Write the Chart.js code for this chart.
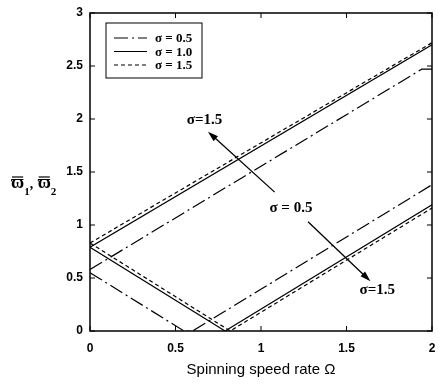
<!DOCTYPE html>
<html lang="en">
<head>
<meta charset="UTF-8">
<title>Spinning speed rate</title>
<script src="https://cdn.jsdelivr.net/npm/chart.js"></script>
<style>
  html, body { margin: 0; padding: 0; background: #fff; }
  #wrap { width: 440px; height: 387px; }
</style>
</head>
<body>
<div id="wrap"><canvas id="chart" width="440" height="387"></canvas></div>
<script>
// sigma = 0.5 (dash-dot)
const s05UpperX = [0, 1.94, 2];
const s05UpperY = [0.58, 2.47, 2.47];
const s05LowerX = [0, 0.55, 0.6, 2];
const s05LowerY = [0.55, 0, 0, 1.38];
// sigma = 1.0 (solid)
const s10UpperX = [0, 2];
const s10UpperY = [0.79, 2.70];
const s10LowerX = [0, 0.79, 2];
const s10LowerY = [0.79, 0, 1.19];
// sigma = 1.5 (dashed)
const s15UpperX = [0, 2];
const s15UpperY = [0.83, 2.72];
const s15LowerX = [0, 0.82, 2];
const s15LowerY = [0.83, 0, 1.16];

const seriesLabels = ['σ = 0.5', 'σ = 1.0', 'σ = 1.5'];
const xTicks = [0, 0.5, 1, 1.5, 2];
const yTicks = [0, 0.5, 1, 1.5, 2, 2.5, 3];

const dashDot = [14, 4, 2, 4];
const dashed = [4, 3];

function pts(xs, ys) {
    return xs.map((x, i) => ({ x: x, y: ys[i] }));
}

function line(label, xs, ys, dash) {
    return {
        label: label,
        data: pts(xs, ys),
        showLine: true,
        borderColor: '#000',
        borderWidth: 1.2,
        borderDash: dash,
        pointRadius: 0,
        fill: false
    };
}

const datasets = [
    line(seriesLabels[0], s05UpperX, s05UpperY, dashDot),
    line(seriesLabels[0], s05LowerX, s05LowerY, dashDot),
    line(seriesLabels[1], s10UpperX, s10UpperY, []),
    line(seriesLabels[1], s10LowerX, s10LowerY, []),
    line(seriesLabels[2], s15UpperX, s15UpperY, dashed),
    line(seriesLabels[2], s15LowerX, s15LowerY, dashed)
];

// annotation texts and arrows, in data units
const notes = [
    { text: 'σ=1.5', x: 0.67, y: 1.99 },
    { text: 'σ = 0.5', x: 1.175, y: 1.16 },
    { text: 'σ=1.5', x: 1.68, y: 0.39 }
];
const arrows = [
    { x0: 1.08, y0: 1.31, x1: 0.69, y1: 1.88 },
    { x0: 1.275, y0: 1.03, x1: 1.64, y1: 0.47 }
];

const frame = {
    id: 'frame',
    afterDraw(chart) {
        const c = chart.ctx, a = chart.chartArea;
        const xs = chart.scales.x, ys = chart.scales.y;
        c.save();
        c.strokeStyle = '#000';
        c.lineWidth = 1.5;
        c.setLineDash([]);
        c.strokeRect(a.left, a.top, a.right - a.left, a.bottom - a.top);

        // inward ticks on all four sides
        c.lineWidth = 1;
        c.beginPath();
        xTicks.forEach(v => {
            const px = xs.getPixelForValue(v);
            c.moveTo(px, a.bottom); c.lineTo(px, a.bottom - 5);
            c.moveTo(px, a.top); c.lineTo(px, a.top + 5);
        });
        yTicks.forEach(v => {
            const py = ys.getPixelForValue(v);
            c.moveTo(a.left, py); c.lineTo(a.left + 5, py);
            c.moveTo(a.right, py); c.lineTo(a.right - 5, py);
        });
        c.stroke();

        // legend box
        const lx = a.left + 16, ly = a.top + 10, lw = 96, lh = 55;
        c.lineWidth = 1;
        c.fillStyle = '#fff';
        c.fillRect(lx, ly, lw, lh);
        c.strokeRect(lx, ly, lw, lh);
        const dashes = [dashDot, [], dashed];
        c.font = 'bold 13px "Liberation Serif"';
        c.textBaseline = 'middle';
        c.textAlign = 'left';
        c.fillStyle = '#000';
        seriesLabels.forEach((t, i) => {
            const yy = ly + 15 + i * 13.5;
            c.setLineDash(dashes[i]);
            c.lineWidth = 1.2;
            c.beginPath();
            c.moveTo(lx + 8, yy); c.lineTo(lx + 41, yy);
            c.stroke();
            c.setLineDash([]);
            c.fillText(t, lx + 49, yy + 1);
        });

        // annotations
        c.font = 'bold 15px "Liberation Serif"';
        c.textAlign = 'center';
        notes.forEach(n => {
            c.fillText(n.text, xs.getPixelForValue(n.x), ys.getPixelForValue(n.y));
        });
        c.lineWidth = 1.3;
        arrows.forEach(ar => {
            const x0 = xs.getPixelForValue(ar.x0), y0 = ys.getPixelForValue(ar.y0);
            const x1 = xs.getPixelForValue(ar.x1), y1 = ys.getPixelForValue(ar.y1);
            const ang = Math.atan2(y1 - y0, x1 - x0);
            c.beginPath();
            c.moveTo(x0, y0); c.lineTo(x1 - 8 * Math.cos(ang), y1 - 8 * Math.sin(ang));
            c.stroke();
            c.beginPath();
            c.moveTo(x1, y1);
            c.lineTo(x1 - 11 * Math.cos(ang - 0.3), y1 - 11 * Math.sin(ang - 0.3));
            c.lineTo(x1 - 11 * Math.cos(ang + 0.3), y1 - 11 * Math.sin(ang + 0.3));
            c.closePath();
            c.fill();
        });

        // axis titles
        c.font = '15px Arial';
        c.textAlign = 'center';
        c.fillText('Spinning speed rate Ω', (a.left + a.right) / 2, 370);

        let x = 11;
        const by = 188;
        c.textAlign = 'left';
        c.textBaseline = 'alphabetic';
        ['1', '2'].forEach((sub, i) => {
            c.font = 'bold 18px "Liberation Serif"';
            const w = c.measureText('ϖ').width;
            c.fillText('ϖ', x, by);
            c.beginPath();
            c.lineWidth = 1.2;
            c.moveTo(x + 1, by - 11); c.lineTo(x + w - 1, by - 11);
            c.stroke();
            x += w;
            c.font = 'bold 11px "Liberation Serif"';
            c.fillText(sub, x, by + 7);
            x += c.measureText(sub).width;
            if (i === 0) {
                c.font = 'bold 14px "Liberation Serif"';
                c.fillText(',', x, by);
                x += 8;
            }
        });
        c.restore();
    }
};

const tickFont = { family: 'Arial', size: 12, weight: 'bold' };

new Chart(document.getElementById('chart'), {
    type: 'scatter',
    data: { datasets: datasets },
    options: {
        responsive: false,
        animation: false,
        layout: { padding: { top: 13, right: 8, left: 0, bottom: 0 } },
        plugins: { legend: { display: false }, tooltip: { enabled: false } },
        scales: {
            x: {
                type: 'linear', min: 0, max: 2,
                afterBuildTicks: s => { s.ticks = xTicks.map(v => ({ value: v })); },
                afterFit: s => { s.height = 56; s.paddingLeft = 0; s.paddingRight = 0; },
                grid: { display: false, drawTicks: false },
                border: { display: false },
                ticks: { color: '#000', font: tickFont, padding: 10, maxRotation: 0, callback: v => String(v) }
            },
            y: {
                type: 'linear', min: 0, max: 3,
                afterBuildTicks: s => { s.ticks = yTicks.map(v => ({ value: v })); },
                afterFit: s => { s.width = 90; s.paddingTop = 0; s.paddingBottom = 0; },
                grid: { display: false, drawTicks: false },
                border: { display: false },
                ticks: { color: '#000', font: tickFont, padding: 7, callback: v => String(v) }
            }
        }
    },
    plugins: [frame]
});
</script>
</body>
</html>
